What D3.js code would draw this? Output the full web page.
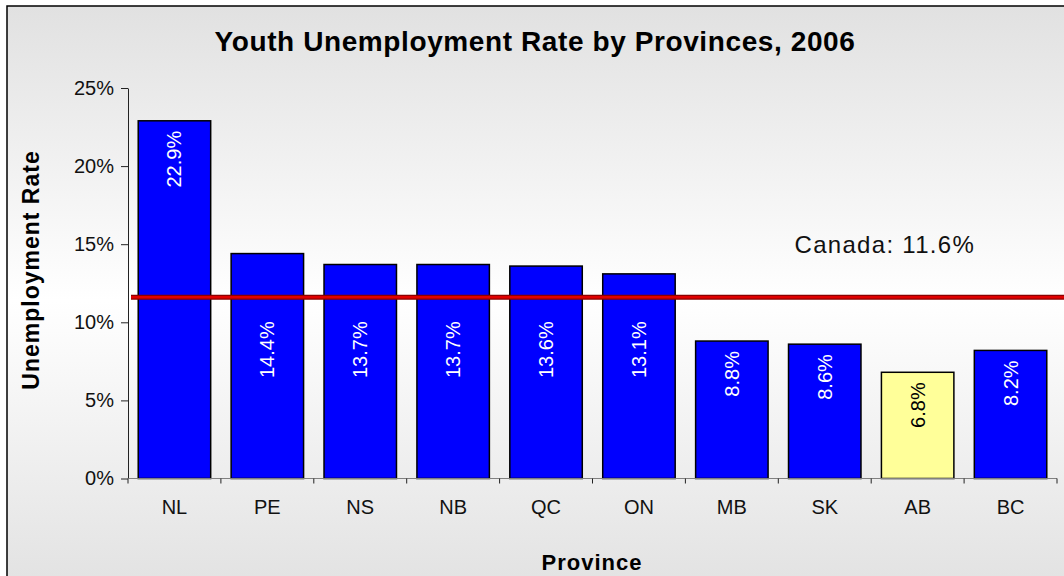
<!DOCTYPE html>
<html><head><meta charset="utf-8">
<script src="https://cdn.jsdelivr.net/npm/d3@7"></script>
<style>
html,body{margin:0;padding:0;background:#fff;}
svg{display:block;font-family:"Liberation Sans",Arial,sans-serif;}
</style></head><body>
<svg id="chart" width="1064" height="576"></svg>
<script>
// Youth unemployment rate (%) by province, 2006
const provinces = ["NL", "PE", "NS", "NB", "QC", "ON", "MB", "SK", "AB", "BC"];
const youthRates = [22.9, 14.4, 13.7, 13.7, 13.6, 13.1, 8.8, 8.6, 6.8, 8.2];
const highlighted = ["AB"];
const canadaRate = 11.6;
const yTicks = [0, 5, 10, 15, 20, 25];

const svg = d3.select("#chart");
const W = 1064, H = 576;
const plot = { left: 128, right: 1057, top: 88, bottom: 478.5 };

// background panel with vertical grey-white-grey gradient
const defs = svg.append("defs");
const grad = defs.append("linearGradient").attr("id", "bg")
  .attr("x1", 0).attr("y1", 0).attr("x2", 0).attr("y2", 1);
grad.append("stop").attr("offset", "0%").attr("stop-color", "#e1e1e1");
grad.append("stop").attr("offset", "50%").attr("stop-color", "#ffffff");
grad.append("stop").attr("offset", "100%").attr("stop-color", "#e1e1e1");

svg.append("rect").attr("x", 7).attr("y", 6).attr("width", W + 20).attr("height", 590)
  .attr("fill", "url(#bg)").attr("stroke", "#000").attr("stroke-width", 1.5);

const x = d3.scaleBand().domain(provinces)
  .range([plot.left, plot.right]).paddingInner(0.22).paddingOuter(0.11);
const y = d3.scaleLinear().domain([0, 25]).range([plot.bottom, plot.top]);

// title
svg.append("text").attr("x", 535).attr("y", 51).attr("text-anchor", "middle")
  .attr("font-size", 28).attr("font-weight", "bold").attr("letter-spacing", 0.6)
  .text("Youth Unemployment Rate by Provinces, 2006");

// bars
const data = provinces.map((p, i) => ({ p, v: youthRates[i] }));
svg.append("g").selectAll("rect").data(data).join("rect")
  .attr("x", d => x(d.p)).attr("width", x.bandwidth())
  .attr("y", d => y(d.v)).attr("height", d => y(0) - y(d.v))
  .attr("fill", d => highlighted.includes(d.p) ? "#ffff99" : "#0000ff")
  .attr("stroke", "#000").attr("stroke-width", 1.5);

// y axis
const yAxis = d3.axisLeft(y).tickValues(yTicks).tickFormat(d => d + "%")
  .tickSize(7).tickPadding(7).tickSizeOuter(0);
const gy = svg.append("g").attr("transform", `translate(${plot.left},0)`).call(yAxis);
gy.select(".domain").attr("stroke", "#222");
gy.selectAll(".tick line").attr("stroke", "#222");
gy.selectAll(".tick text").attr("font-size", 20).attr("fill", "#111")
  .attr("font-family", "Liberation Sans, Arial, sans-serif");

// x axis: line, boundary ticks, centered labels
const gx = svg.append("g");
gx.append("line").attr("x1", plot.left).attr("x2", plot.right)
  .attr("y1", y(0)).attr("y2", y(0)).attr("stroke", "#808080").attr("stroke-width", 1.2);
const step = x.step();
const bounds = provinces.map(p => x(p) - step * x.paddingInner() / 2);
bounds.push(plot.right);
gx.selectAll("line.tk").data(bounds).join("line").attr("class", "tk")
  .attr("x1", d => d).attr("x2", d => d)
  .attr("y1", y(0)).attr("y2", y(0) + 5).attr("stroke", "#222");
gx.selectAll("text").data(provinces).join("text")
  .attr("x", d => x(d) + x.bandwidth() / 2).attr("y", 514)
  .attr("text-anchor", "middle").attr("font-size", 20).attr("fill", "#111")
  .text(d => d);

// axis titles
svg.append("text").attr("x", 592).attr("y", 570).attr("text-anchor", "middle")
  .attr("font-size", 22).attr("font-weight", "bold").attr("letter-spacing", 1)
  .text("Province");
svg.append("text").attr("transform", "translate(39,270) rotate(-90)")
  .attr("text-anchor", "middle").attr("font-size", 23).attr("font-weight", "bold")
  .attr("letter-spacing", 1)
  .text("Unemployment Rate");

// national average reference line
const lineY = y(canadaRate);
svg.append("line").attr("x1", plot.left + 3).attr("x2", W)
  .attr("y1", lineY).attr("y2", lineY).attr("stroke", "#8b0000").attr("stroke-width", 5);
svg.append("line").attr("x1", plot.left + 3).attr("x2", W)
  .attr("y1", lineY).attr("y2", lineY).attr("stroke", "#e00000").attr("stroke-width", 2.4);

svg.append("text").attr("x", x("SK") + 6).attr("y", lineY - 44)
  .attr("font-size", 24).attr("letter-spacing", 1.3).attr("fill", "#111")
  .text(`Canada: ${canadaRate}%`);

// value labels, rotated, inside bar tops; pushed below the reference line if they would cross it
const labels = svg.append("g").selectAll("text").data(data).join("text")
  .attr("text-anchor", "end").attr("dominant-baseline", "central")
  .attr("font-size", 20)
  .attr("fill", d => highlighted.includes(d.p) ? "#000" : "#fff")
  .text(d => d.v.toFixed(1) + "%");
labels.each(function (d) {
  const len = this.getComputedTextLength();
  let start = y(d.v) + 10;
  if (start < lineY + 6 && start + len > lineY - 6) start = lineY + 24;
  d3.select(this).attr("transform",
    `translate(${x(d.p) + x.bandwidth() / 2},${start}) rotate(-90)`);
});
</script>
</body></html>
